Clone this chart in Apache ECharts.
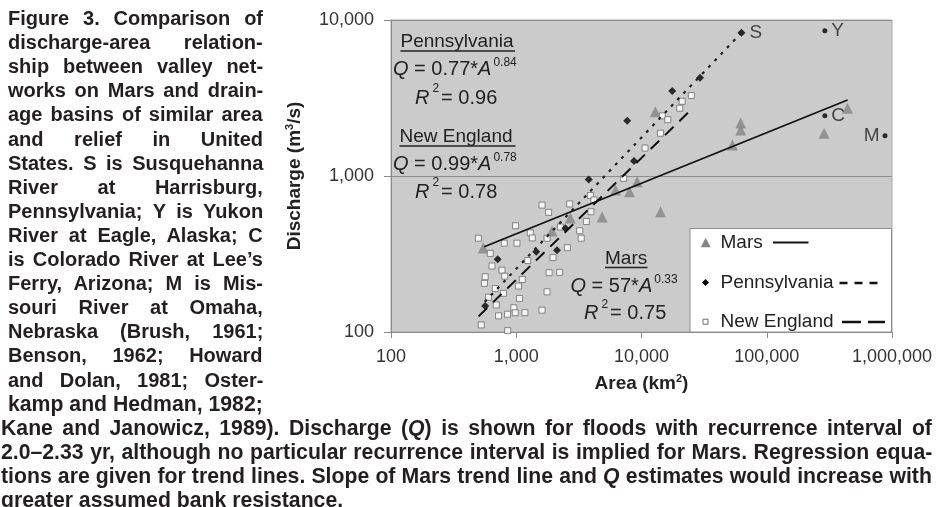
<!DOCTYPE html>
<html><head><meta charset="utf-8">
<script src="https://cdn.jsdelivr.net/npm/echarts/dist/echarts.min.js"></script>
<style>
html,body{margin:0;padding:0;background:#fff;}
body{width:938px;height:507px;overflow:hidden;position:relative;}
#chart{position:absolute;left:0;top:0;width:938px;height:507px;}
.cap{position:absolute;font-family:'Liberation Sans',Arial,sans-serif;font-weight:bold;color:#231f20;white-space:nowrap;line-height:24px;transform-origin:0 50%;}
</style></head>
<body>
<div id="chart"></div>
<script>
// ---------------- DATA ----------------
const seriesNames = ['Mars', 'Pennsylvania', 'New England'];
const xTickValues = [100, 1000, 10000, 100000, 1000000];
const yTickValues = [100, 1000, 10000];

const marsArea = [545, 1930, 2700, 4850, 6200, 8020, 9240, 14200, 12900, 61900, 61900, 53200, 287000, 442000];
const marsQ    = [345, 444, 538, 546, 813, 793, 918, 590, 2580, 2190, 1970, 1580, 1880, 2720];

const pennArea  = [565, 711, 1445, 2115, 2466, 3790, 7690, 8710, 17600, 29300, 62800];
const pennQ     = [147, 293, 327, 334, 462, 951, 2260, 1250, 3510, 4270, 8290];
const pennLabel = ['', '', '', '', '', '', '', '', '', '', 'S'];

const neArea = [499,620,802,1013,987,1606,1813,1294,1343,1762,2670,3910,4170,3945,3630,3210,3300,2560,2250,1966,1829,2220,1762,1606,640,769,565,557,809,679,600,791,1043,1117,1062,692,722,851,957,982,1172,525,855,1236,21100,20200,25000,14660,16220,14190,10670,7210];
const neQ    = [399,319,371,371,480,651,585,432,401,399,662,750,702,590,511,446,399,347,471,300,240,241,181,138,265,249,226,205,228,190,167,177,197,217,164,149,127,130,143,133,133,111,102,287,3010,2720,3280,2430,2296,1880,1510,966];

const riverLabel = ['Y', 'C', 'M'];
const riverArea  = [291000, 291000, 879000];
const riverQ     = [8530, 2430, 1810];

// trend lines (end points)
const marsTrendArea = [555, 442000];
const marsTrendQ    = [352, 3070];
const pennTrendArea = [560, 62800];
const pennTrendQ    = [156, 8290];
const neTrendArea   = [500, 25000];
const neTrendQ      = [126, 2670];

// ---------------- CAPTION ----------------
const leftLines = [
  'Figure 3. Comparison of',
  'discharge-area relation-',
  'ship between valley net-',
  'works on Mars and drain-',
  'age basins of similar area',
  'and relief in United',
  'States. S is Susquehanna',
  'River at Harrisburg,',
  'Pennsylvania; Y is Yukon',
  'River at Eagle, Alaska; C',
  'is Colorado River at Lee\u2019s',
  'Ferry, Arizona; M is Mis-',
  'souri River at Omaha,',
  'Nebraska (Brush, 1961;',
  'Benson, 1962; Howard',
  'and Dolan, 1981; Oster-'
];
const narrowLines = [
  'kamp and Hedman, 1982;',
  'Kane and Janowicz, 1989). Discharge (<i>Q</i>) is shown for floods with recurrence interval of',
  '2.0\u20132.33 yr, although no particular recurrence interval is implied for Mars. Regression equa-',
  'tions are given for trend lines. Slope of Mars trend line and <i>Q</i> estimates would increase with',
  'greater assumed bank resistance.'
];
const FF = "'Liberation Sans', Arial, sans-serif";
function lineTop(n){ return 18 + n * 24.1 - 12; }
function makeLine(html, left, top, size){
  const d = document.createElement('div');
  d.className = 'cap';
  d.style.left = left + 'px';
  d.style.top = top + 'px';
  d.style.fontSize = size + 'px';
  d.innerHTML = html;
  document.body.appendChild(d);
  return d;
}
function justify(d, target, scale){
  const w = d.offsetWidth;
  const sp = (d.textContent.match(/ /g) || []).length;
  if (sp > 0) d.style.wordSpacing = ((target / scale - w) / sp) + 'px';
  d.style.transform = 'scaleX(' + scale + ')';
}
leftLines.forEach((t, i) => {
  const d = makeLine(t, 8, lineTop(i), 20);
  const w = d.offsetWidth;
  let s = 1;
  if (w > 255) s = 255 / w;
  justify(d, 255, s);
});
const nEls = narrowLines.map((t, i) => makeLine(t, i === 0 ? 8 : 1, lineTop(16 + i), 22));
let nScale = 1;
[1, 2, 3].forEach(i => { nScale = Math.min(nScale, 931 / (nEls[i].offsetWidth + 4)); });
nEls.forEach((d, i) => {
  if (i >= 1 && i <= 3) justify(d, 931, nScale);
  else d.style.transform = 'scaleX(' + nScale + ')';
});

// ---------------- CHART ----------------
const chart = echarts.init(document.getElementById('chart'), null, {renderer: 'canvas'});
const fmt = v => Math.round(v).toLocaleString('en-US');
const TXT = '#222';

function annText(text, x, y, size, rich){
  return {type: 'text', z: 50, style: {text, x, y, fill: TXT, fontSize: size, fontFamily: FF, verticalAlign: 'middle', rich}};
}
const eqRich = {
  i: {fontStyle: 'italic', fontSize: 20, fontFamily: FF, fill: TXT},
  n: {fontSize: 20, fontFamily: FF, fill: TXT},
  s: {fontSize: 12, fontFamily: FF, fill: TXT, padding: [0, 0, 13, 2]},
  r: {fontSize: 12, fontFamily: FF, fill: TXT, padding: [0, 2, 18, 3]}
};
function uline(x1, x2, y){
  return {type: 'line', z: 50, shape: {x1, y1: y, x2, y2: y}, style: {stroke: TXT, lineWidth: 1.5}};
}

const graphic = [
  annText('Pennsylvania', 400.5, 42, 19),
  uline(400.5, 515, 51),
  annText('{i|Q}{n| = 0.77*}{i|A}{s|0.84}', 393, 69, 20, eqRich),
  annText('{i|R}{r|2}{n|= 0.96}', 415, 98, 20, eqRich),
  annText('New England', 399.5, 137, 19),
  uline(399.5, 515.5, 146),
  annText('{i|Q}{n| = 0.99*}{i|A}{s|0.78}', 393, 164, 20, eqRich),
  annText('{i|R}{r|2}{n|= 0.78}', 415, 192, 20, eqRich),
  annText('Mars', 605, 259, 19),
  uline(605, 647.5, 267.5),
  annText('{i|Q}{n| = 57*}{i|A}{s|0.33}', 570.5, 286, 20, eqRich),
  annText('{i|R}{r|2}{n|= 0.75}', 584, 313.5, 20, eqRich),
  // legend box
  {type: 'rect', z: 60, shape: {x: 690, y: 228.5, width: 201.5, height: 103.5}, style: {fill: '#fff', stroke: '#8e8e8e', lineWidth: 1}},
  {type: 'polygon', z: 61, shape: {points: [[700.7, 247.3], [705.7, 237.8], [710.7, 247.3]]}, style: {fill: '#858585'}},
  {type: 'polygon', z: 61, shape: {points: [[705.5, 279], [709, 282.5], [705.5, 286], [702, 282.5]]}, style: {fill: '#000'}},
  {type: 'rect', z: 61, shape: {x: 703, y: 319.2, width: 5, height: 5}, style: {fill: '#fff', stroke: '#6d6d6d', lineWidth: 1}},
  {type: 'text', z: 61, style: {text: seriesNames[0], x: 720.5, y: 242.5, fill: TXT, fontSize: 19, fontFamily: FF, verticalAlign: 'middle'}},
  {type: 'text', z: 61, style: {text: seriesNames[1], x: 720.5, y: 282.5, fill: TXT, fontSize: 19, fontFamily: FF, verticalAlign: 'middle'}},
  {type: 'text', z: 61, style: {text: seriesNames[2], x: 720.5, y: 322, fill: TXT, fontSize: 19, fontFamily: FF, verticalAlign: 'middle'}},
  {type: 'line', z: 61, shape: {x1: 773, y1: 242.5, x2: 808.5, y2: 242.5}, style: {stroke: '#111', lineWidth: 2}},
  {type: 'line', z: 61, shape: {x1: 839.5, y1: 283, x2: 882, y2: 283}, style: {stroke: '#111', lineWidth: 2.5, lineDash: [8, 7]}},
  {type: 'line', z: 61, shape: {x1: 842, y1: 322, x2: 885, y2: 322}, style: {stroke: '#111', lineWidth: 2.5, lineDash: [19, 7]}}
];

const pointLabel = (txt, pos) => ({show: true, formatter: txt, position: pos, distance: pos === 'left' ? 3 : 4,
  fontSize: 19, fontFamily: FF, color: TXT});

const option = {
  animation: false,
  backgroundColor: 'transparent',
  textStyle: {fontFamily: FF},
  grid: {left: 391, top: 20, width: 501, height: 312, show: true, backgroundColor: '#cbcbcb', borderColor: '#a8a8a8', borderWidth: 1},
  xAxis: {
    type: 'log', logBase: 10, min: xTickValues[0], max: xTickValues[xTickValues.length - 1],
    axisLine: {show: true, lineStyle: {color: '#8a8a8a', width: 1}},
    axisTick: {show: true, length: 6, lineStyle: {color: '#8a8a8a'}},
    minorTick: {show: false},
    splitLine: {show: false},
    axisLabel: {fontSize: 18, color: '#333', margin: 16, fontFamily: FF, formatter: fmt},
    name: '{b|Area (km}{s|2}{b|)}', nameLocation: 'middle', nameGap: 41,
    nameTextStyle: {rich: {
      b: {fontSize: 19, fontWeight: 'bold', color: TXT, fontFamily: FF},
      s: {fontSize: 11, fontWeight: 'bold', color: TXT, fontFamily: FF, padding: [0, 0, 10, 0]}
    }}
  },
  yAxis: {
    type: 'log', logBase: 10, min: yTickValues[0], max: yTickValues[yTickValues.length - 1],
    axisLine: {show: true, lineStyle: {color: '#8a8a8a', width: 1}},
    axisTick: {show: true, length: 7, lineStyle: {color: '#8a8a8a'}},
    minorTick: {show: false},
    splitLine: {show: true, lineStyle: {color: '#8c8c8c', width: 1}},
    axisLabel: {fontSize: 18, color: '#333', margin: 17, fontFamily: FF, formatter: fmt},
    name: '{b|Discharge (m}{s|3}{b|/s)}', nameLocation: 'middle', nameGap: 86, nameRotate: 90,
    nameTextStyle: {rich: {
      b: {fontSize: 19, fontWeight: 'bold', color: TXT, fontFamily: FF},
      s: {fontSize: 11, fontWeight: 'bold', color: TXT, fontFamily: FF, padding: [0, 0, 10, 0]}
    }}
  },
  graphic,
  series: [
    {
      name: seriesNames[0], type: 'scatter', z: 3, symbol: 'triangle', symbolSize: 11,
      itemStyle: {color: '#858585'},
      data: marsArea.map((a, i) => [a, marsQ[i]])
    },
    {
      name: seriesNames[2], type: 'scatter', z: 3, symbol: 'rect', symbolSize: 6,
      itemStyle: {color: '#ffffff', borderColor: '#6d6d6d', borderWidth: 1},
      data: neArea.map((a, i) => [a, neQ[i]])
    },
    {
      name: seriesNames[1], type: 'scatter', z: 4, symbol: 'diamond', symbolSize: 8,
      itemStyle: {color: '#000'},
      data: pennArea.map((a, i) => pennLabel[i]
        ? {value: [a, pennQ[i]], label: pointLabel(pennLabel[i], 'right')}
        : [a, pennQ[i]])
    },
    {
      name: 'Large rivers', type: 'scatter', z: 4, symbol: 'circle', symbolSize: 5,
      itemStyle: {color: '#000'},
      data: riverArea.map((a, i) => ({value: [a, riverQ[i]], label: pointLabel(riverLabel[i], riverLabel[i] === 'M' ? 'left' : 'right')}))
    },
    {
      name: seriesNames[0] + ' trend', type: 'line', z: 5, showSymbol: false, symbol: 'none',
      lineStyle: {color: '#111', width: 1.8, type: 'solid'},
      data: marsTrendArea.map((a, i) => [a, marsTrendQ[i]])
    },
    {
      name: seriesNames[1] + ' trend', type: 'line', z: 5, showSymbol: false, symbol: 'none',
      lineStyle: {color: '#222', width: 2.2, type: [3, 6]},
      data: pennTrendArea.map((a, i) => [a, pennTrendQ[i]])
    },
    {
      name: seriesNames[2] + ' trend', type: 'line', z: 5, showSymbol: false, symbol: 'none',
      lineStyle: {color: '#111', width: 2, type: [12, 8]},
      data: neTrendArea.map((a, i) => [a, neTrendQ[i]])
    }
  ]
};
chart.setOption(option);
</script>
</body></html>
